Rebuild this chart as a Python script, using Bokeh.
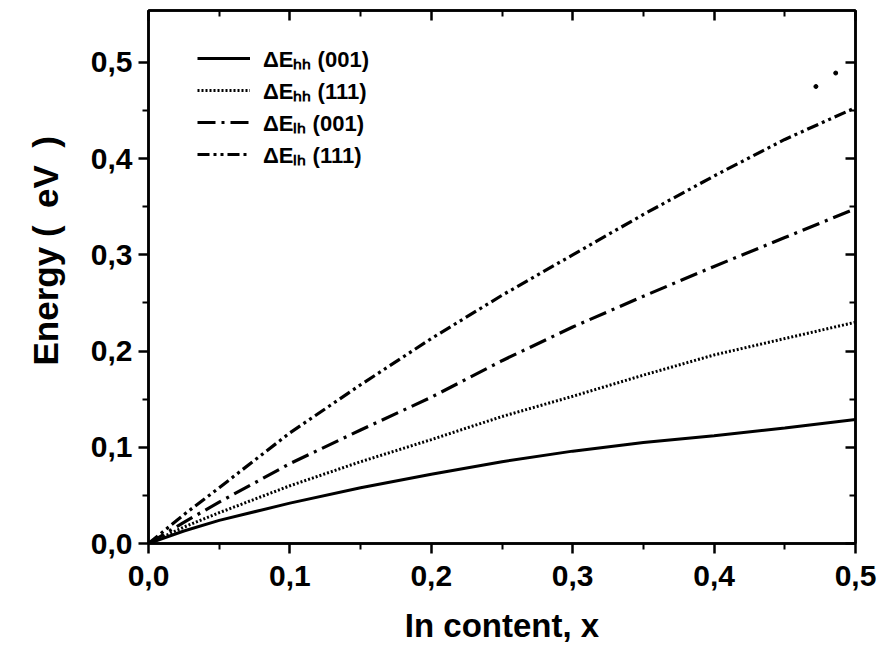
from bokeh.plotting import figure
from bokeh.models import (Range1d, LinearAxis, Legend, LegendItem, FixedTicker,
                          ColumnDataSource, Title)
from bokeh.embed import file_html
from bokeh.resources import INLINE

# ---- data ----
x = [0.0, 0.025, 0.05, 0.1, 0.15, 0.2, 0.25, 0.3, 0.35, 0.4, 0.45, 0.5]
dE_hh_001 = [0.0, 0.013, 0.024, 0.042, 0.058, 0.072, 0.085, 0.096, 0.105, 0.112, 0.120, 0.129]
dE_hh_111 = [0.0, 0.017, 0.032, 0.060, 0.085, 0.108, 0.132, 0.153, 0.175, 0.196, 0.213, 0.230]
dE_lh_001 = [0.0, 0.022, 0.043, 0.083, 0.118, 0.152, 0.190, 0.225, 0.257, 0.288, 0.318, 0.348]
dE_lh_111 = [0.0, 0.030, 0.058, 0.115, 0.165, 0.213, 0.258, 0.300, 0.342, 0.382, 0.420, 0.453]

stray_x = [0.472, 0.486]
stray_y = [0.475, 0.489]

series_labels = ["ΔEₕₕ (001)", "ΔEₕₕ (111)", "ΔEₗₕ (001)", "ΔEₗₕ (111)"]

x_ticks = [0.0, 0.1, 0.2, 0.3, 0.4, 0.5]
x_tick_labels = ["0,0", "0,1", "0,2", "0,3", "0,4", "0,5"]
x_minor = [0.05, 0.15, 0.25, 0.35, 0.45]
y_ticks = [0.0, 0.1, 0.2, 0.3, 0.4, 0.5]
y_tick_labels = ["0,0", "0,1", "0,2", "0,3", "0,4", "0,5"]
y_minor = [0.05, 0.15, 0.25, 0.35, 0.45]

x_label = "In content, x"
y_label = "Energy (\u2002eV\u2002)"

FONT = "Liberation Sans"

src = ColumnDataSource(dict(x=x, a=dE_hh_001, b=dE_hh_111, c=dE_lh_001, d=dE_lh_111))

p = figure(width=885, height=648, output_backend="svg", toolbar_location=None,
           x_range=Range1d(0, 0.5), y_range=Range1d(0, 0.554),
           min_border_left=148, min_border_right=30, min_border_top=10,
           min_border_bottom=105)
p.grid.visible = False
p.outline_line_color = "black"
p.outline_line_width = 2.5
p.background_fill_color = "white"
p.border_fill_color = "white"

r1 = p.line("x", "a", source=src, line_color="black", line_width=3)
r2 = p.line("x", "b", source=src, line_color="black", line_width=3, line_dash="2 2")
r3 = p.line("x", "c", source=src, line_color="black", line_width=3.2, line_dash="18 6 3 6")
r4 = p.line("x", "d", source=src, line_color="black", line_width=3.2, line_dash="12 4 3 4 3 4")
p.scatter(stray_x, stray_y, size=4, color="black")

def style_axis(ax, ticks, minor, labels, label, label_size, inward=False):
    ax.ticker = FixedTicker(ticks=ticks, minor_ticks=minor)
    ax.axis_line_width = 2.5
    ax.axis_line_color = "black"
    ax.major_tick_line_width = 2.5
    ax.minor_tick_line_width = 2
    ax.major_tick_line_color = "black"
    ax.minor_tick_line_color = "black"
    if inward:
        ax.major_tick_in, ax.major_tick_out = 10, 0
        ax.minor_tick_in, ax.minor_tick_out = 6, 0
        ax.major_label_overrides = {t: "" for t in ticks}
        ax.major_label_standoff = 0
    else:
        ax.major_tick_in, ax.major_tick_out = 0, 10
        ax.minor_tick_in, ax.minor_tick_out = 0, 6
        ax.major_label_overrides = dict(zip(ticks, labels))
        ax.major_label_text_font = FONT
        ax.major_label_text_font_size = "30px"
        ax.major_label_text_font_style = "bold"
        ax.major_label_text_color = "black"
        if label:
            ax.axis_label = label
            ax.axis_label_text_font = FONT
            ax.axis_label_text_font_size = label_size
            ax.axis_label_text_font_style = "bold"
            ax.axis_label_text_color = "black"

xa = p.xaxis[0]
style_axis(xa, x_ticks, x_minor, x_tick_labels, x_label, "33px")
xa.major_label_standoff = 12
xa.axis_label_standoff = 18

ya = p.yaxis[0]
style_axis(ya, y_ticks, y_minor, y_tick_labels, None, None)
ya.major_label_standoff = 6

# y-axis title as a left-side Title, so it can sit above the frame's centre
ytitle = Title(text=y_label, align="left", offset=178, standoff=46,
               text_font=FONT, text_font_size="35px", text_font_style="bold",
               text_color="black")
p.add_layout(ytitle, "left")

ra = LinearAxis()
style_axis(ra, y_ticks, y_minor, None, None, None, inward=True)
p.add_layout(ra, "right")
ta = LinearAxis()
style_axis(ta, x_ticks, x_minor, None, None, None, inward=True)
p.add_layout(ta, "above")

legend = Legend(items=[LegendItem(label=series_labels[0], renderers=[r1]),
                       LegendItem(label=series_labels[1], renderers=[r2]),
                       LegendItem(label=series_labels[2], renderers=[r3]),
                       LegendItem(label=series_labels[3], renderers=[r4])],
                location=(49, 373), glyph_width=53, glyph_height=32, label_height=32,
                label_standoff=13, spacing=0, padding=0, margin=0,
                border_line_alpha=0, background_fill_alpha=0,
                label_text_font=FONT, label_text_font_size="22px",
                label_text_font_style="bold", label_text_color="black")
p.add_layout(legend)

open("out.html", "w").write(file_html(p, INLINE))
